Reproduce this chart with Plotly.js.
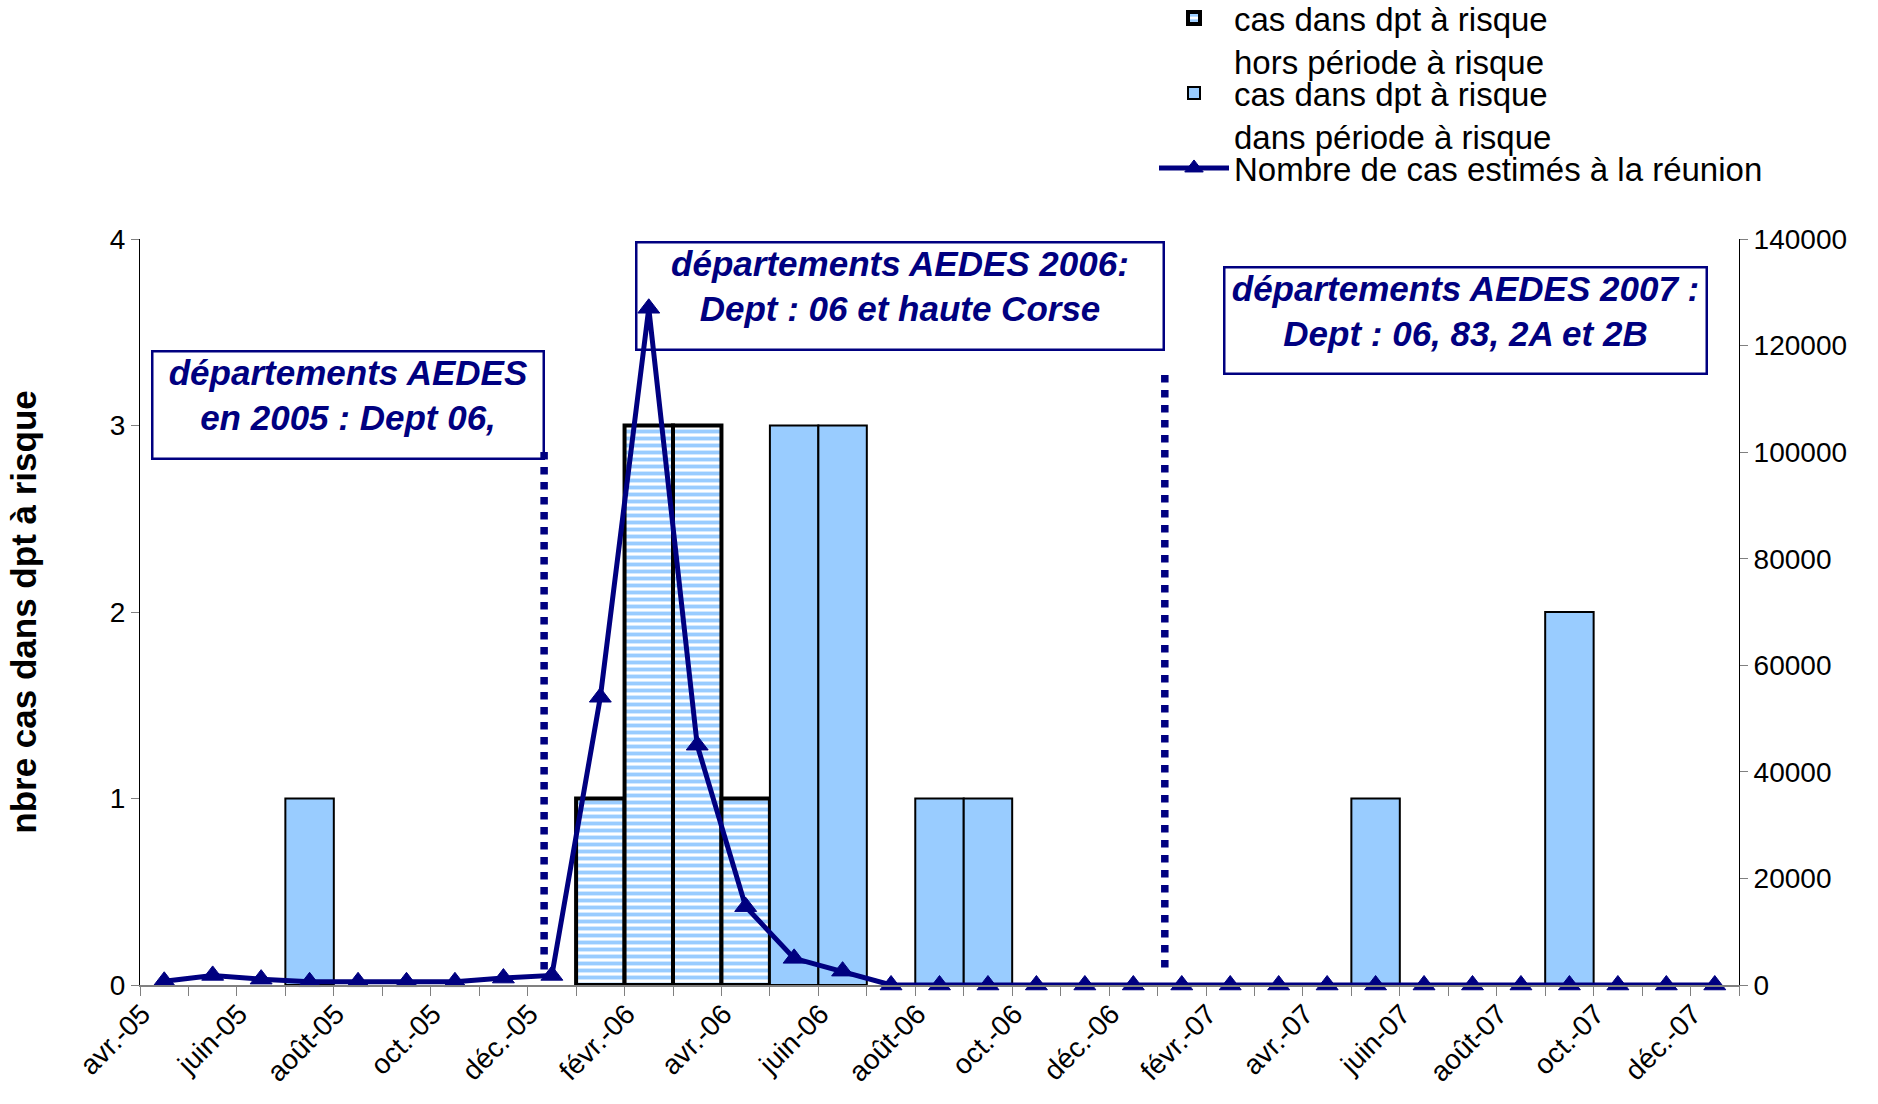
<!DOCTYPE html>
<html>
<head>
<meta charset="utf-8">
<script src="https://cdn.plot.ly/plotly-3.0.1.min.js"></script>
<style>
html,body{margin:0;padding:0;background:#ffffff;}
#chart{width:1878px;height:1104px;}
</style>
</head>
<body>
<div id="chart"></div>
<script>
// ---- data ----
const months = ["avr.-05","mai-05","juin-05","juil.-05","août-05","sept.-05","oct.-05","nov.-05","déc.-05",
  "janv.-06","févr.-06","mars-06","avr.-06","mai-06","juin-06","juil.-06","août-06","sept.-06","oct.-06","nov.-06","déc.-06",
  "janv.-07","févr.-07","mars-07","avr.-07","mai-07","juin-07","juil.-07","août-07","sept.-07","oct.-07","nov.-07","déc.-07"];

// cas dans dpt à risque hors période à risque
const horsPeriode = [null,null,null,null,null,null,null,null,null,
  1,3,3,1,null,null,null,null,null,null,null,null,
  null,null,null,null,null,null,null,null,null,null,null,null];

// cas dans dpt à risque dans période à risque
const dansPeriode = [null,null,null,1,null,null,null,null,null,
  null,null,null,null,3,3,null,1,1,null,null,null,
  null,null,null,null,1,null,null,null,2,null,null,null];

// Nombre de cas estimés à la réunion
const reunionCases = [700,1800,1100,600,600,600,600,1300,1800,
  54000,127000,45000,14700,5000,2600,0,0,0,0,0,0,
  0,0,0,0,0,0,0,0,0,0,0,0];

const seriesNames = ["cas dans dpt à risque<br>hors période à risque",
  "cas dans dpt à risque<br>dans période à risque",
  "Nombre de cas estimés à la réunion"];

const boxTexts = ["départements AEDES<br>en 2005 : Dept 06,",
  "départements AEDES 2006:<br>Dept : 06 et haute Corse",
  "départements AEDES 2007 :<br>Dept : 06, 83, 2A et 2B"];

// ---- derived ----
const xIdx = months.map((m, i) => i);
const tickIdx = xIdx.filter(i => i % 2 === 0);
const tickText = tickIdx.map(i => months[i]);
const boundaries = months.map((m, i) => i - 0.5).concat([months.length - 0.5]);

const NAVY = '#000080';
const LIGHT = '#99CCFF';
const FONT = 'Liberation Sans, Arial, sans-serif';

const traces = [
  {
    type: 'bar', x: xIdx, y: horsPeriode, name: seriesNames[0],
    yaxis: 'y', legend: 'legend',
    marker: {
      color: LIGHT,
      pattern: {shape: '-', size: 7, solidity: 0.55, fgcolor: LIGHT, bgcolor: '#ffffff', fillmode: 'replace'},
      line: {color: '#000000', width: 4}
    },
    hoverinfo: 'skip'
  },
  {
    type: 'bar', x: xIdx, y: dansPeriode, name: seriesNames[1],
    yaxis: 'y', legend: 'legend2',
    marker: {color: LIGHT, line: {color: '#000000', width: 2}},
    hoverinfo: 'skip'
  },
  {
    type: 'scatter', mode: 'lines+markers', x: xIdx, y: reunionCases, name: seriesNames[2],
    yaxis: 'y2', legend: 'legend3',
    line: {color: NAVY, width: 5},
    marker: {symbol: 'triangle-up', size: 19, color: NAVY, line: {color: NAVY, width: 1}},
    cliponaxis: false,
    hoverinfo: 'skip'
  }
];

// plot area pixel geometry
const L = 140, R = 1739, T = 239, B = 985;
const px2paperX = p => (p - L) / (R - L);
const px2paperY = p => (B - p) / (B - T);

function box(text, left, top, w, h) {
  return {
    xref: 'paper', yref: 'paper', x: px2paperX(left), y: px2paperY(top),
    xanchor: 'left', yanchor: 'top', text: text, showarrow: false,
    align: 'center', valign: 'top', width: w, height: h,
    bordercolor: NAVY, borderwidth: 2.5, borderpad: 0, bgcolor: 'rgba(0,0,0,0)',
    font: {family: FONT, size: 35, color: NAVY, weight: 'bold', style: 'italic'}
  };
}

function legendAt(topPx) {
  return {
    xref: 'container', yref: 'paper', x: 1154 / 1878, y: px2paperY(topPx),
    xanchor: 'left', yanchor: 'top', valign: 'top',
    font: {family: FONT, size: 33, color: '#000000'},
    bgcolor: 'rgba(0,0,0,0)', borderwidth: 0, itemwidth: 70
  };
}

const layout = {
  width: 1878, height: 1104,
  paper_bgcolor: '#ffffff', plot_bgcolor: '#ffffff',
  margin: {l: L, r: 1878 - R, t: T, b: 1104 - B, autoexpand: false},
  font: {family: FONT, size: 28, color: '#000000'},
  barmode: 'overlay', bargap: 0,
  showlegend: true,
  legend: legendAt(-10),
  legend2: legendAt(65),
  legend3: legendAt(140),
  xaxis: {
    type: 'linear', range: [-0.5, months.length - 0.5],
    tickmode: 'array', tickvals: tickIdx, ticktext: tickText,
    tickangle: -45, ticks: '', ticklabelshift: -22,
    showgrid: false, zeroline: false,
    showline: true, linecolor: '#808080', linewidth: 1.5,
    tickfont: {family: FONT, size: 28, color: '#000000'},
    minor: {tickmode: 'array', tickvals: boundaries, ticks: 'outside', ticklen: 9, tickcolor: '#808080', tickwidth: 1, showgrid: false},
    fixedrange: true
  },
  yaxis: {
    range: [0, 4], dtick: 1, tick0: 0,
    ticks: 'outside', ticklen: 8, tickcolor: '#808080', tickwidth: 1,
    showline: true, linecolor: '#000000', linewidth: 1,
    showgrid: false, zeroline: false,
    tickfont: {family: FONT, size: 28, color: '#000000'},
    title: {text: 'nbre cas dans dpt à risque', standoff: 62,
      font: {family: FONT, size: 35, color: '#000000', weight: 'bold'}},
    fixedrange: true
  },
  yaxis2: {
    overlaying: 'y', side: 'right',
    range: [0, 140000], dtick: 20000, tick0: 0,
    ticks: 'outside', ticklen: 8, tickcolor: '#808080', tickwidth: 1,
    showline: true, linecolor: '#000000', linewidth: 1,
    showgrid: false, zeroline: false,
    tickformat: 'd', separatethousands: false,
    tickfont: {family: FONT, size: 28, color: '#000000'},
    fixedrange: true
  },
  shapes: [
    {type: 'line', xref: 'x', yref: 'paper', x0: 7.84, x1: 7.84, y0: px2paperY(452), y1: px2paperY(977),
      line: {color: NAVY, width: 7.5, dash: 'dot'}},
    {type: 'line', xref: 'x', yref: 'paper', x0: 20.65, x1: 20.65, y0: px2paperY(375), y1: px2paperY(973),
      line: {color: NAVY, width: 7.5, dash: 'dot'}}
  ],
  annotations: [
    box(boxTexts[0], 151, 350, 389, 105),
    box(boxTexts[1], 635, 241, 525, 105),
    box(boxTexts[2], 1223, 266, 480, 104)
  ]
};

Plotly.newPlot('chart', traces, layout, {staticPlot: true, displayModeBar: false});
</script>
</body>
</html>
